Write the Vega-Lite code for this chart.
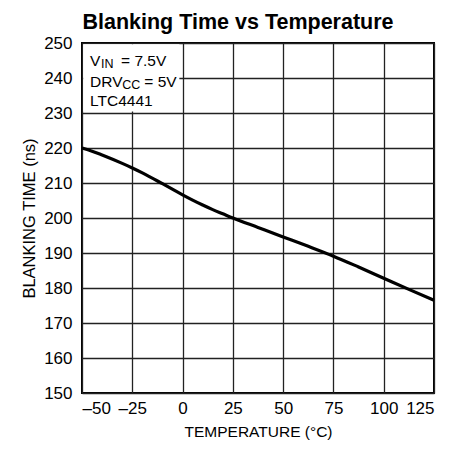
{
  "$schema": "https://vega.github.io/schema/vega-lite/v6.json",
  "width": 352,
  "height": 350,
  "autosize": "none",
  "padding": {"left": 82, "top": 43, "right": 26, "bottom": 62},
  "background": "white",
  "config": {
    "view": {"stroke": "black", "strokeWidth": 2},
    "font": "Liberation Sans",
    "axis": {
      "grid": true,
      "gridColor": "#222",
      "gridWidth": 1.3,
      "domain": false,
      "ticks": false,
      "labelFontSize": 17,
      "labelColor": "black",
      "labelOverlap": false,
      "titleFontSize": 16,
      "titleFontWeight": "normal",
      "titleColor": "black",
      "labelFont": "Liberation Sans",
      "titleFont": "Liberation Sans"
    }
  },
  "title": {
    "text": "Blanking Time vs Temperature",
    "fontSize": 21.5,
    "fontWeight": "bold",
    "font": "Liberation Sans",
    "color": "black",
    "anchor": "middle",
    "dx": -20,
    "offset": 1
  },
  "datasets": {
    "curve": [
      {"temp": -50, "time": 220.0},
      {"temp": -45, "time": 219.1},
      {"temp": -40, "time": 218.0},
      {"temp": -30, "time": 215.6},
      {"temp": -25, "time": 214.3},
      {"temp": -20, "time": 212.9},
      {"temp": -10, "time": 209.8},
      {"temp": 0, "time": 206.6},
      {"temp": 5, "time": 205.1},
      {"temp": 10, "time": 203.7},
      {"temp": 15, "time": 202.4},
      {"temp": 20, "time": 201.2},
      {"temp": 25, "time": 200.0},
      {"temp": 37.5, "time": 197.3},
      {"temp": 50, "time": 194.6},
      {"temp": 62.5, "time": 191.9},
      {"temp": 75, "time": 189.1},
      {"temp": 87.5, "time": 186.0},
      {"temp": 100, "time": 182.8},
      {"temp": 112.5, "time": 179.6},
      {"temp": 125, "time": 176.5}
    ],
    "box": [{"temp": -49.4, "temp2": -1.6, "time": 230.4, "time2": 249.65}],
    "notes": [
      {"t": "V", "temp": -46, "time": 243.4},
      {"t": "= 7.5V", "temp": -30.6, "time": 243.4},
      {"t": "DRV", "temp": -46, "time": 237.5},
      {"t": "= 5V", "temp": -19.0, "time": 237.5},
      {"t": "LTC4441", "temp": -46, "time": 232.1}
    ],
    "subs": [
      {"t": "IN", "temp": -40.6, "time": 242.8},
      {"t": "CC", "temp": -30.0, "time": 236.9}
    ]
  },
  "encoding": {
    "x": {"field": "temp", "type": "quantitative", "scale": {"domain": [-50, 125], "nice": false, "zero": false},
      "axis": {"values": [-50, -25, 0, 25, 50, 75, 100, 125], "title": "TEMPERATURE (°C)", "titleFontSize": 15.5, "labelPadding": 7, "titlePadding": 8, "labelOverlap": false,
        "labelExpr": "datum.value < 0 ? '–' + abs(datum.value) : datum.label"}},
    "y": {"field": "time", "type": "quantitative", "scale": {"domain": [150, 250], "nice": false, "zero": false},
      "axis": {"values": [150, 160, 170, 180, 190, 200, 210, 220, 230, 240, 250], "title": "BLANKING TIME (ns)", "titleFontSize": 16.5, "labelPadding": 10, "titlePadding": 6, "labelOverlap": false}}
  },
  "layer": [
    {
      "data": {"name": "box"},
      "mark": {"type": "rect", "fill": "white", "stroke": null},
      "encoding": {
        "x2": {"field": "temp2"},
        "y2": {"field": "time2"}
      }
    },
    {
      "data": {"name": "curve"},
      "mark": {"type": "line", "color": "black", "strokeWidth": 3.2, "interpolate": "monotone"},
      "encoding": {}
    },
    {
      "data": {"name": "notes"},
      "mark": {"type": "text", "align": "left", "baseline": "alphabetic", "fontSize": 15.5, "color": "black"},
      "encoding": {
        "text": {"field": "t"}
      }
    },
    {
      "data": {"name": "subs"},
      "mark": {"type": "text", "align": "left", "baseline": "alphabetic", "fontSize": 12.5, "color": "black"},
      "encoding": {
        "text": {"field": "t"}
      }
    }
  ]
}
